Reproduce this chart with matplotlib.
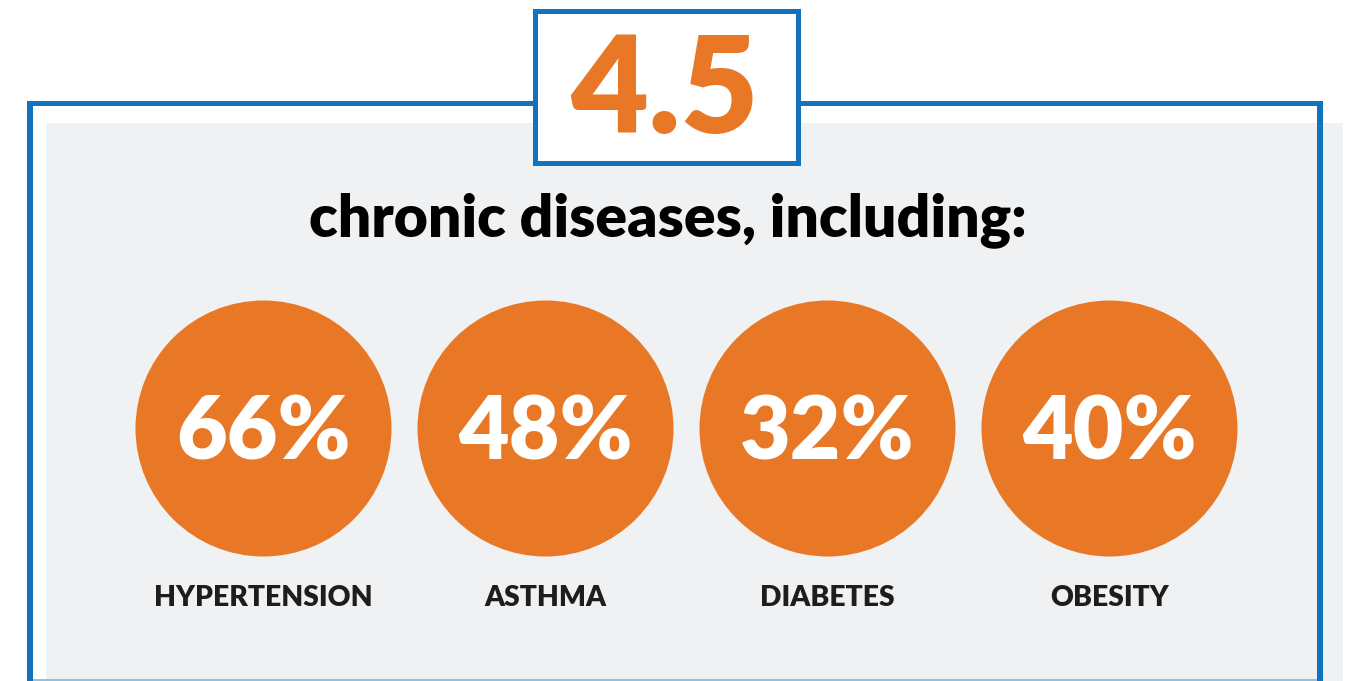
import matplotlib
matplotlib.use("Agg")
import matplotlib.pyplot as plt
from matplotlib.patches import Rectangle, Circle

# ---- data ----
headline = "4.5"
subtitle = "chronic diseases, including:"
categories = ["HYPERTENSION", "ASTHMA", "DIABETES", "OBESITY"]
percents = [66, 48, 32, 40]

BLUE = "#1172BD"
LIGHTBLUE = "#8EC1E6"
GRAY = "#F0F1F3"
ORANGE = "#E87826"
DARK = "#1d1d1d"
FONT = ["Lato", "DejaVu Sans"]

W, H = 1346, 681
fig = plt.figure(figsize=(W / 100, H / 100), dpi=100)
ax = fig.add_axes([0, 0, 1, 1])
ax.set_xlim(0, W)
ax.set_ylim(H, 0)
ax.axis("off")

def rect(x0, y0, x1, y1, color, z):
    ax.add_patch(Rectangle((x0, y0), x1 - x0, y1 - y0, facecolor=color,
                           edgecolor="none", zorder=z))

# gray panel
rect(46, 123, 1343, H + 5, GRAY, 1)
# frame
rect(27, 101, 1323, 106, BLUE, 3)
rect(27, 101, 33, H + 5, BLUE, 3)
rect(1317, 101, 1323, H + 5, BLUE, 3)
rect(27, 679, 1323, 681, LIGHTBLUE, 2)

# headline box
rect(533, 9, 801, 166, BLUE, 4)
rect(538, 14, 796, 161, "white", 5)
ax.text(665, 94, headline, ha="center", va="center", color=ORANGE,
        fontsize=97, fontweight="heavy", family=FONT, zorder=6)

ax.text(668, 220, subtitle, ha="center", va="center", color="black",
        fontsize=42.4, fontweight="heavy", family=FONT, zorder=6)

cx0, step, cy, r = 263.5, 282, 428.5, 128
for i, (cat, p) in enumerate(zip(categories, percents)):
    cx = cx0 + i * step
    ax.add_patch(Circle((cx, cy), r, facecolor=ORANGE, edgecolor="none", zorder=5))
    ax.text(cx, cy + 6, f"{p}%", ha="center", va="center", color="white",
            fontsize=63, fontweight="heavy", family=FONT, zorder=6)
    ax.text(cx, 598, cat, ha="center", va="center", color=DARK,
            fontsize=20.3, fontweight="heavy", family=FONT, zorder=6)

fig.savefig("out.png", dpi=100)
